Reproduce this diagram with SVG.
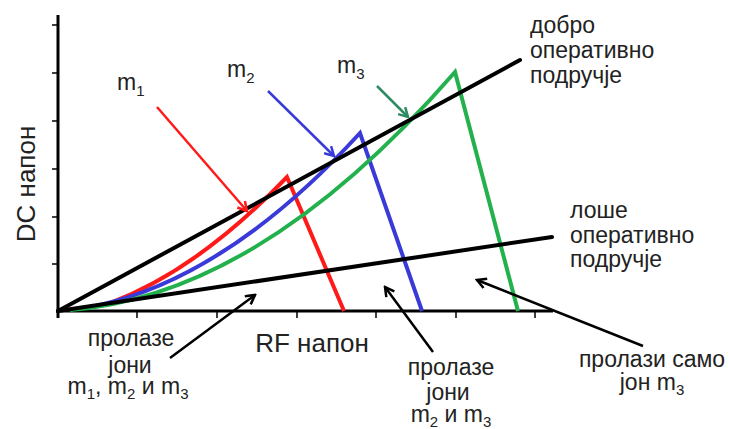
<svg xmlns="http://www.w3.org/2000/svg" width="729" height="429" viewBox="0 0 729 429">
<defs>
<style>
.ax{stroke:#000;stroke-width:3;fill:none}
.tk{stroke:#000;stroke-width:1.5;fill:none}
.op{stroke:#000;stroke-width:4;fill:none;stroke-linecap:round}
.cv{stroke-width:4;fill:none;stroke-linejoin:miter}
.ar{stroke-width:2.5;fill:none}
text{font-family:"Liberation Sans",Arial,sans-serif;fill:#222}
.t{font-size:23px}
.big{font-size:26px}
.s{font-size:15px}
</style>
<marker id="hk" viewBox="0 0 12 12" markerWidth="12" markerHeight="12" refX="10" refY="6" orient="auto" markerUnits="userSpaceOnUse"><path d="M1,1 L10,6 L1,11" fill="none" stroke="#000" stroke-width="2.5"/></marker>
<marker id="hr" viewBox="0 0 12 12" markerWidth="12" markerHeight="12" refX="10" refY="6" orient="auto" markerUnits="userSpaceOnUse"><path d="M1,1 L10,6 L1,11" fill="none" stroke="#ff1a1a" stroke-width="2.5"/></marker>
<marker id="hb" viewBox="0 0 12 12" markerWidth="12" markerHeight="12" refX="10" refY="6" orient="auto" markerUnits="userSpaceOnUse"><path d="M1,1 L10,6 L1,11" fill="none" stroke="#3a3ad8" stroke-width="2.5"/></marker>
<marker id="hg" viewBox="0 0 12 12" markerWidth="12" markerHeight="12" refX="10" refY="6" orient="auto" markerUnits="userSpaceOnUse"><path d="M1,1 L10,6 L1,11" fill="none" stroke="#2e8b62" stroke-width="2.5"/></marker>
</defs>
<rect width="729" height="429" fill="#fff"/>

<g id="axes">
<line class="ax" x1="58" y1="15" x2="58" y2="318"/>
<line class="ax" x1="56" y1="311" x2="553" y2="311"/>
<path class="tk" d="M52,25H58M52,73H58M52,121H58M52,169H58M52,217H58M52,264H58M137,311V318M217,311V318M297,311V318M376,311V318M456,311V318M535,311V318"/>
</g>

<g id="curves">
<path id="m1-curve" class="cv" stroke="#ff1a1a" d="M110,303 Q198,270 287,177 L344,311"/>
<path id="m2-curve" class="cv" stroke="#3a3ad8" d="M100,305 Q230,275 360,133 L422,311"/>
<path id="m3-curve" class="cv" stroke="#22b14c" d="M70,310 Q261,295 455,72 L518,311"/>
</g>

<g id="operating-lines">
<line class="op" x1="58" y1="311" x2="520" y2="60"/>
<line class="op" x1="58" y1="311" x2="552" y2="237"/>
</g>

<g id="connectors">
<line class="ar" stroke="#ff1a1a" x1="157" y1="107" x2="247" y2="211" marker-end="url(#hr)"/>
<line class="ar" stroke="#3a3ad8" x1="268" y1="91" x2="334" y2="156" marker-end="url(#hb)"/>
<line class="ar" stroke="#2e8b62" x1="377" y1="86" x2="408" y2="117" marker-end="url(#hg)"/>
<line class="ar" stroke="#000" x1="170" y1="358" x2="255" y2="295" marker-end="url(#hk)"/>
<line class="ar" stroke="#000" x1="433" y1="352" x2="385" y2="287" marker-end="url(#hk)"/>
<line class="ar" stroke="#000" x1="643" y1="346" x2="477" y2="280" marker-end="url(#hk)"/>
</g>

<g id="labels-m">
<text class="t" x="117" y="90">m<tspan class="s" dy="6">1</tspan></text>
<text class="t" x="227" y="77">m<tspan class="s" dy="6">2</tspan></text>
<text class="t" x="337" y="73">m<tspan class="s" dy="6">3</tspan></text>
</g>

<g id="axis-labels">
<text class="big" x="312" y="352" text-anchor="middle">RF напон</text>
<text class="big" transform="translate(35,184) rotate(-90)" text-anchor="middle">DC напон</text>
</g>

<g id="good-region">
<text class="t" x="530" y="33">добро</text>
<text class="t" x="530" y="58">оперативно</text>
<text class="t" x="530" y="83">подручје</text>
</g>

<g id="bad-region">
<text class="t" x="570" y="218">лоше</text>
<text class="t" x="570" y="243">оперативно</text>
<text class="t" x="570" y="267">подручје</text>
</g>

<g id="all-pass">
<text class="t" x="131" y="346" text-anchor="middle">пролазе</text>
<text class="t" x="130" y="373" text-anchor="middle">јони</text>
<text class="t" x="128" y="394" text-anchor="middle">m<tspan class="s" dy="5">1</tspan><tspan dy="-5">, m</tspan><tspan class="s" dy="5">2</tspan><tspan dy="-5"> и m</tspan><tspan class="s" dy="5">3</tspan></text>
</g>

<g id="two-pass">
<text class="t" x="451" y="375" text-anchor="middle">пролазе</text>
<text class="t" x="448" y="400" text-anchor="middle">јони</text>
<text class="t" x="451" y="422" text-anchor="middle">m<tspan class="s" dy="5">2</tspan><tspan dy="-5"> и m</tspan><tspan class="s" dy="5">3</tspan></text>
</g>

<g id="one-pass">
<text class="t" x="652" y="367" text-anchor="middle">пролази само</text>
<text class="t" x="652" y="390" text-anchor="middle">јон m<tspan class="s" dy="5">3</tspan></text>
</g>
</svg>
